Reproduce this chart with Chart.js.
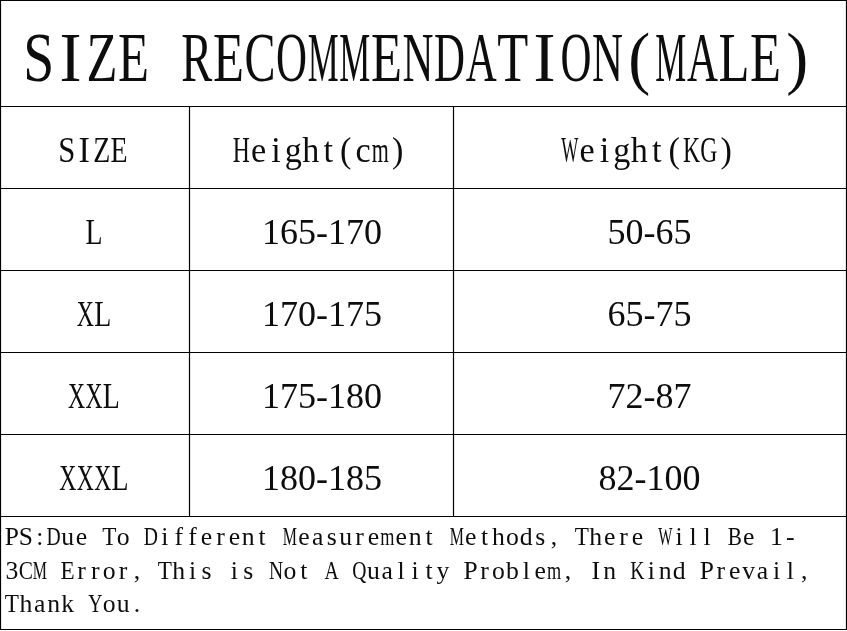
<!DOCTYPE html>
<html>
<head>
<meta charset="utf-8">
<script src="https://cdn.jsdelivr.net/npm/chart.js@4"></script>
<style>
  html, body { margin: 0; padding: 0; background: #fff; }
  canvas { display: block; }
</style>
</head>
<body>
<canvas id="c" width="847" height="631"></canvas>
<script>
// ---- data ----
const title = "SIZE RECOMMENDATION(MALE)";
const headers = ["SIZE", "Height(cm)", "Weight(KG)"];
const sizes = ["L", "XL", "XXL", "XXXL"];
const heights = ["165-170", "170-175", "175-180", "180-185"];
const weights = ["50-65", "65-75", "72-87", "82-100"];
const noteLines = [
  "PS:Due To Different Measurement Methods, There Will Be 1-",
  "3CM Error, This is Not A Quality Problem, In Kind Prevail,",
  "Thank You."
];

// ---- layout (scale units) ----
const colEdges = [0, 189, 453, 846];
const rowEdges = [0, 106, 188, 270, 352, 434, 516, 629];

const SERIF = '"Liberation Serif", "Times New Roman", serif';

function drawMono(ctx, text, x0, baseline, advance, size, maxScale, fill) {
  ctx.font = size + 'px ' + SERIF;
  ctx.textAlign = 'center';
  ctx.textBaseline = 'alphabetic';
  for (let i = 0; i < text.length; i++) {
    const ch = text[i];
    if (ch === ' ') continue;
    const w = ctx.measureText(ch).width || 1;
    const sx = Math.min(maxScale, advance * fill / w);
    ctx.save();
    ctx.translate(x0 + (i + 0.5) * advance, baseline);
    ctx.scale(sx, 1);
    ctx.fillText(ch, 0, 0);
    ctx.restore();
  }
}
function drawMonoCentered(ctx, text, cx, baseline, advance, size, maxScale, fill) {
  drawMono(ctx, text, cx - text.length * advance / 2, baseline, advance, size, maxScale, fill);
}

const tablePlugin = {
  id: 'tablePlugin',
  beforeDraw(chart) {
    const ctx = chart.ctx;
    ctx.save();
    ctx.fillStyle = '#ffffff';
    ctx.fillRect(0, 0, chart.width, chart.height);
    ctx.restore();
  },
  afterDraw(chart) {
    const ctx = chart.ctx;
    const xs = chart.scales.x, ys = chart.scales.y;
    const X = v => xs.getPixelForValue(v);
    const Y = v => ys.getPixelForValue(v);
    const crisp = p => Math.round(p) + 0.5;

    ctx.save();
    ctx.strokeStyle = '#000';
    ctx.lineWidth = 1.2;
    ctx.beginPath();
    rowEdges.forEach(r => {
      ctx.moveTo(X(colEdges[0]), crisp(Y(r)));
      ctx.lineTo(X(colEdges[colEdges.length - 1]) + 1, crisp(Y(r)));
    });
    [colEdges[0], colEdges[colEdges.length - 1]].forEach(c => {
      ctx.moveTo(crisp(X(c)), Y(rowEdges[0]));
      ctx.lineTo(crisp(X(c)), Y(rowEdges[rowEdges.length - 1]));
    });
    colEdges.slice(1, -1).forEach(c => {
      ctx.moveTo(crisp(X(c)), Y(rowEdges[1]));
      ctx.lineTo(crisp(X(c)), Y(rowEdges[6]));
    });
    ctx.stroke();

    ctx.fillStyle = '#0d0d0d';
    const colCenter = i => (X(colEdges[i]) + X(colEdges[i + 1])) / 2;
    const base = r => Y(rowEdges[r + 1]) - 26;

    // title
    drawMonoCentered(ctx, title, X(418), Y(rowEdges[1]) - 25, 31.6, 69.5, 0.95, 0.98);

    // headers
    headers.forEach((h, i) => {
      drawMonoCentered(ctx, h, colCenter(i) - 1.5, base(1), 17.4, 36, 0.95, 0.98);
    });

    // size column
    sizes.forEach((s, r) => {
      drawMonoCentered(ctx, s, colCenter(0) - 0.5, base(2 + r), 17.4, 36, 0.95, 0.98);
    });

    // numeric columns
    ctx.font = '36px ' + SERIF;
    ctx.textAlign = 'center';
    ctx.textBaseline = 'alphabetic';
    heights.forEach((h, r) => ctx.fillText(h, colCenter(1) + 1, base(2 + r)));
    weights.forEach((w, r) => ctx.fillText(w, colCenter(2), base(2 + r)));

    // note
    noteLines.forEach((line, i) => {
      drawMono(ctx, line, X(5), Y(545) + i * 33.5, 13.9, 25.7, 1.0, 1.02);
    });
    ctx.restore();
  }
};

new Chart(document.getElementById('c'), {
  type: 'scatter',
  data: { datasets: [{ data: [], pointRadius: 0 }] },
  options: {
    responsive: false,
    animation: false,
    layout: { padding: 0 },
    plugins: { legend: { display: false }, tooltip: { enabled: false } },
    scales: {
      x: { type: 'linear', min: 0, max: 847, display: false },
      y: { type: 'linear', min: 0, max: 631, reverse: true, display: false }
    }
  },
  plugins: [tablePlugin]
});
</script>
</body>
</html>
